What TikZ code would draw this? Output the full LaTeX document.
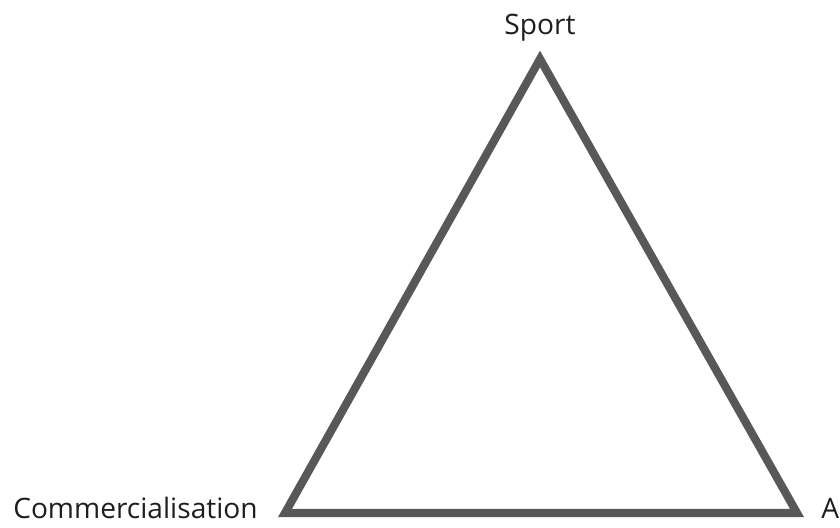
\documentclass[tikz,border=0pt]{standalone}
\usepackage{fontspec}
\setmainfont{Open Sans}
\usepackage{xcolor}
\usetikzlibrary{positioning}
\definecolor{edgegrey}{RGB}{88, 88, 90}
\definecolor{labelgrey}{RGB}{30, 30, 30}

\begin{document}
\begin{tikzpicture}[x=0.025cm, y=-0.025cm]
        \useasboundingbox (0, 0) rectangle (840, 527);
        \tikzset{cornerlabel/.style={font=\fontsize{20}{24}\selectfont, text=labelgrey, inner sep=0pt}}
        % Corners of the triangle
        \coordinate (sport) at (540, 59);
        \coordinate (comm) at (285, 513);
        \coordinate (aside) at (797, 513);
        
        % Triangle
        \draw[line width=5.8pt, color=edgegrey, line join=miter] (sport) -- (comm) -- (aside) -- cycle;
        
        % Labels
        \node[cornerlabel, anchor=base] (sportlabel) at (540, 34) {Sport};
        \node[cornerlabel, anchor=base east] (commlabel) at (258, 518) {Commercialisation};
        \node[cornerlabel, anchor=base west] (alabel) at (821, 518) {A};
    \end{tikzpicture}
\end{document}
